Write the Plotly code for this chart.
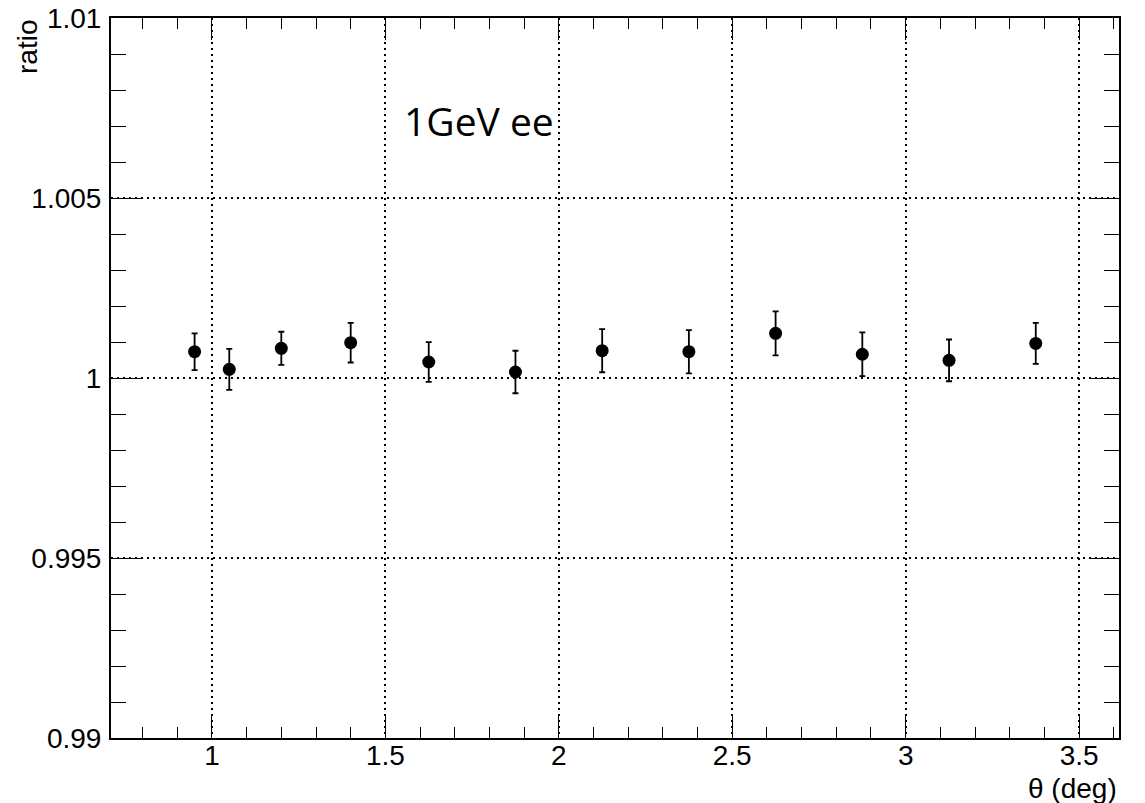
import plotly.graph_objects as go

# Ratio vs polar angle, one point per theta bin
theta = [0.95, 1.05, 1.2, 1.4, 1.625, 1.875, 2.125, 2.375, 2.625, 2.875, 3.125, 3.375]
ratio = [1.00073, 1.00024, 1.000825, 1.00098, 1.000444, 1.000167,
         1.00076, 1.00073, 1.00124, 1.00066, 1.00049, 1.00096]
ratio_err = [0.00051, 0.00057, 0.00046, 0.00055, 0.00055, 0.00059,
             0.00060, 0.00060, 0.00061, 0.00061, 0.00058, 0.00057]

x_ticks = [1, 1.5, 2, 2.5, 3, 3.5]
x_ticktext = ["1", "1.5", "2", "2.5", "3", "3.5"]
y_ticks = [0.99, 0.995, 1.0, 1.005, 1.01]
y_ticktext = ["0.99", "0.995", "1", "1.005", "1.01"]

label_text = "1GeV ee"

W, H = 1145, 803
L, R, T, B = 111, 26, 18, 65

fig = go.Figure()
fig.add_trace(go.Scatter(
    x=theta, y=ratio, mode="markers",
    marker=dict(symbol="circle", size=13, color="black"),
    error_y=dict(type="data", array=ratio_err, visible=True,
                 color="black", thickness=1.8, width=3),
    showlegend=False,
))

axis_font = dict(family="Liberation Sans, Arial, sans-serif", size=28, color="black")
grid_common = dict(showgrid=True, gridcolor="black", gridwidth=1.6, griddash="2px,4px",
                   showline=True, linecolor="black", linewidth=2, mirror="allticks",
                   ticks="inside", tickcolor="black", tickwidth=1.4,
                   tickfont=axis_font, zeroline=False)

fig.update_xaxes(range=[0.709, 3.615], tickvals=x_ticks, ticktext=x_ticktext,
                 ticklen=22, ticklabelstandoff=-9,
                 minor=dict(dtick=0.1, tick0=0, ticklen=11, ticks="inside",
                            tickcolor="black", tickwidth=1.4, showgrid=False),
                 **grid_common)
fig.update_yaxes(range=[0.99, 1.01], tickvals=y_ticks, ticktext=y_ticktext,
                 ticklen=30, ticklabelstandoff=2,
                 minor=dict(dtick=0.001, tick0=0.99, ticklen=15, ticks="inside",
                            tickcolor="black", tickwidth=1.4, showgrid=False),
                 **grid_common)

fig.add_annotation(text="ratio", textangle=-90, xref="paper", yref="paper",
                   x=0, y=1, xanchor="center", yanchor="top", xshift=-84,
                   showarrow=False, font=axis_font)
fig.add_annotation(text="θ (deg)", xref="paper", yref="paper",
                   x=1, y=0, xanchor="right", yanchor="middle", yshift=-50,
                   showarrow=False, font=axis_font)
fig.add_annotation(text=label_text, xref="x", yref="paper",
                   x=1.547, y=0.857, xanchor="left", yanchor="middle",
                   showarrow=False,
                   font=dict(family="Open Sans, sans-serif", size=39, color="black"))

fig.update_layout(width=W, height=H, margin=dict(l=L, r=R, t=T, b=B, autoexpand=False),
                  paper_bgcolor="white", plot_bgcolor="white")

fig.write_html("out.html")
